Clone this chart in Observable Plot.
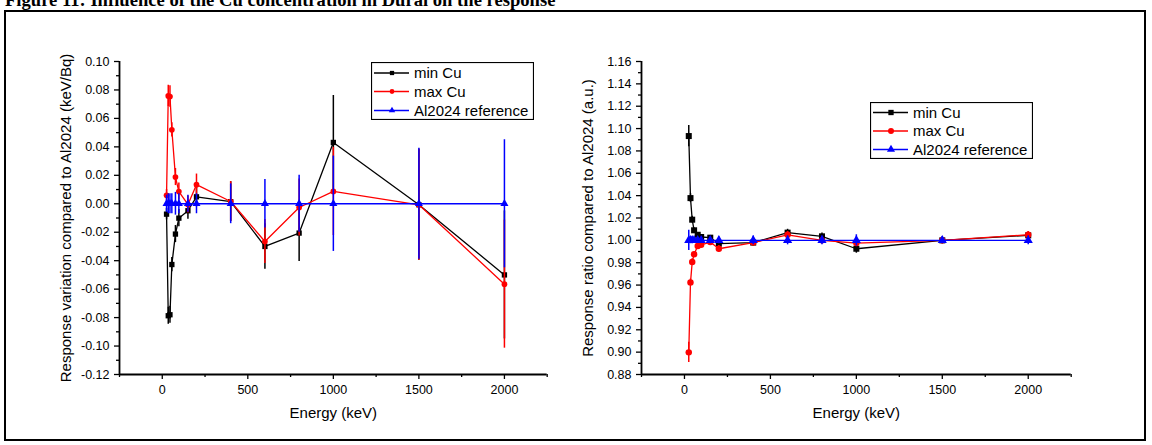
<!DOCTYPE html>
<html><head><meta charset="utf-8">
<script src="https://cdn.jsdelivr.net/npm/d3@7"></script>
<script src="https://cdn.jsdelivr.net/npm/@observablehq/plot@0.6"></script>
<style>
html,body{margin:0;padding:0;background:#fff;width:1152px;height:445px;overflow:hidden;}
#wrap{position:relative;width:1152px;height:445px;}
#title{position:absolute;left:5px;top:-9px;font:bold 18.6px "Liberation Serif","Times New Roman",serif;line-height:18px;white-space:nowrap;color:#000;}
#frame{position:absolute;left:4px;top:10px;width:1142px;height:431px;border:2px solid #000;box-sizing:border-box;}
.panel{position:absolute;top:0;}
.legend{position:absolute;}
</style>
</head><body>
<div id="wrap">
  <div id="title">Figure 11: Influence of the Cu concentration in Dural on the response</div>
  <div id="frame"></div>
  <div id="left" class="panel" style="left:0px"></div>
  <div id="right" class="panel" style="left:560px"></div>
  <svg id="legL" class="legend" style="left:371px;top:62px" width="163" height="58"></svg>
  <svg id="legR" class="legend" style="left:870px;top:102px" width="163" height="57"></svg>
</div>
<script>
// ---------- data ----------
const energy = [25, 35, 45, 56, 77, 97, 150, 200, 400, 600, 800, 1000, 1500, 2000];
const seriesNames = ["min Cu", "max Cu", "Al2024 reference"];

// Left panel: response variation compared to Al2024 (keV/Bq)
const varMinCu    = [-0.0073, -0.0787, -0.0780, -0.0427, -0.0213, -0.0101, -0.0049, 0.0049, 0.0015, -0.0300, -0.0206, 0.0431, -0.0007, -0.0500];
const varMinCuErr = [0.004, 0.006, 0.006, 0.005, 0.006, 0.006, 0.006, 0.007, 0.014, 0.016, 0.020, 0.033, 0.039, 0.045];
const varMaxCu    = [0.0060, 0.0758, 0.0754, 0.0520, 0.0188, 0.0086, -0.0005, 0.0134, 0.0016, -0.0265, -0.0026, 0.0087, -0.0007, -0.0565];
const varMaxCuErr = [0.004, 0.0075, 0.0075, 0.005, 0.006, 0.006, 0.006, 0.0075, 0.014, 0.0155, 0.020, 0.031, 0.039, 0.045];
const varRef      = [0, 0, 0, 0, 0, 0, 0, 0, 0, 0, 0, 0, 0, 0];
const varRefErr   = [0.006, 0.007, 0.007, 0.007, 0.008, 0.007, 0.006, 0.007, 0.014, 0.017, 0.020, 0.0335, 0.039, 0.045];

// Right panel: response ratio compared to Al2024 (a.u.)
const ratioMinCu    = [1.0933, 1.0378, 1.0185, 1.0090, 1.0050, 1.0030, 1.0024, 0.9970, 0.9980, 1.0069, 1.0036, 0.9925, 1.0000, 1.0045];
const ratioMinCuErr = [0.0095, 0.004, 0.003, 0.002, 0.002, 0.002, 0.002, 0.003, 0.003, 0.003, 0.003, 0.004, 0.003, 0.003];
const ratioMaxCu    = [0.8998, 0.9624, 0.9806, 0.9875, 0.9949, 0.9960, 0.9985, 0.9925, 0.9980, 1.0050, 1.0000, 0.9976, 1.0000, 1.0050];
const ratioMaxCuErr = [0.009, 0.003, 0.003, 0.002, 0.003, 0.002, 0.002, 0.003, 0.002, 0.003, 0.003, 0.003, 0.003, 0.003];
const ratioRef      = [1, 1, 1, 1, 1, 1, 1, 1, 1, 1, 1, 1, 1, 1];
const ratioRefErr   = [0.009, 0.003, 0.003, 0.002, 0.002, 0.002, 0.003, 0.003, 0.004, 0.004, 0.004, 0.005, 0.003, 0.004];

// axes / ticks
const xDomain = [-250, 2250];
const xMajor = [0, 500, 1000, 1500, 2000];
const xMinor = [-250, 250, 750, 1250, 1750, 2250];
const yDomainL = [-0.12, 0.10];
const yMajorL = [-0.12, -0.10, -0.08, -0.06, -0.04, -0.02, 0.00, 0.02, 0.04, 0.06, 0.08, 0.10];
const yMinorL = [-0.11, -0.09, -0.07, -0.05, -0.03, -0.01, 0.01, 0.03, 0.05, 0.07, 0.09];
const yDomainR = [0.88, 1.16];
const yMajorR = [0.88, 0.90, 0.92, 0.94, 0.96, 0.98, 1.00, 1.02, 1.04, 1.06, 1.08, 1.10, 1.12, 1.14, 1.16];
const yMinorR = [0.89, 0.91, 0.93, 0.95, 0.97, 0.99, 1.01, 1.03, 1.05, 1.07, 1.09, 1.11, 1.13, 1.15];
const xLabel = "Energy (keV)";
const yLabelL = "Response variation compared to Al2024 (keV/Bq)";
const yLabelR = "Response ratio compared to Al2024 (a.u.)";

const colors = ["#000000", "#ff0000", "#0000ff"];
const symbols = ["square", "circle", "triangle"];

function series(ys, errs, i, r) {
  const data = energy.map((x, k) => ({x, y: ys[k], lo: ys[k] - errs[k], hi: ys[k] + errs[k]}));
  return [
    Plot.ruleX(data, {x: "x", y1: "lo", y2: "hi", stroke: colors[i], strokeWidth: 1.5}),
    Plot.line(data, {x: "x", y: "y", stroke: colors[i], strokeWidth: 1.3}),
    Plot.dot(data, {x: "x", y: "y", symbol: () => symbols[i], fill: colors[i], stroke: "none", r: i === 1 ? r * 0.95 : r})
  ];
}

function panel({width, ml, mr, yDomain, yMajor, yMinor, yLabel, sets, r}) {
  return Plot.plot({
    width, height: 445,
    marginLeft: ml, marginRight: mr, marginTop: 61, marginBottom: 71,
    style: {fontFamily: "'Liberation Sans', Arial, sans-serif", fontSize: "12.5px", color: "#000", background: "transparent", overflow: "visible"},
    x: {domain: xDomain, label: null},
    y: {domain: yDomain, label: null},
    symbol: {type: "identity"},
    marks: [
      ...series(sets[0][0], sets[0][1], 0, r),
      ...series(sets[1][0], sets[1][1], 1, r),
      ...series(sets[2][0], sets[2][1], 2, r),
      Plot.axisX({ticks: xMajor, tickSize: 5, tickPadding: 6, strokeWidth: 1.3, tickFormat: d => String(d), label: null}),
      Plot.axisX({ticks: xMinor, tickSize: 3, strokeWidth: 1.3, tickFormat: null, text: null, label: null}),
      Plot.axisY({ticks: yMajor, tickSize: 5, tickPadding: 5, strokeWidth: 1.3, tickFormat: d => d.toFixed(2), label: null}),
      Plot.axisY({ticks: yMinor, tickSize: 3, strokeWidth: 1.3, text: null, label: null}),
      Plot.ruleX([xDomain[0]], {stroke: "#000", strokeWidth: 1.8}),
      Plot.ruleY([yDomain[0]], {stroke: "#000", strokeWidth: 1.8}),
      Plot.text([xLabel], {frameAnchor: "bottom", dy: 43, fontSize: 15, textAnchor: "middle", text: d => d}),
      Plot.text([yLabel], {frameAnchor: "left", dx: -53, rotate: -90, fontSize: 15, textAnchor: "middle", lineAnchor: "middle", text: d => d})
    ]
  });
}

document.getElementById("left").append(panel({
  width: 560, ml: 119, mr: 13.3, yDomain: yDomainL, yMajor: yMajorL, yMinor: yMinorL, yLabel: yLabelL, r: 3,
  sets: [[varMinCu, varMinCuErr], [varMaxCu, varMaxCuErr], [varRef, varRefErr]]
}));
document.getElementById("right").append(panel({
  width: 592, ml: 81, mr: 81.3, yDomain: yDomainR, yMajor: yMajorR, yMinor: yMinorR, yLabel: yLabelR, r: 3.4,
  sets: [[ratioMinCu, ratioMinCuErr], [ratioMaxCu, ratioMaxCuErr], [ratioRef, ratioRefErr]]
}));

// legends
function legend(id, w, h, rows, mk) {
  const svg = d3.select("#" + id);
  svg.append("rect").attr("x", 0.5).attr("y", 0.5).attr("width", w - 1).attr("height", h - 1)
    .attr("fill", "#fff").attr("stroke", "#000").attr("stroke-width", 1.2);
  seriesNames.forEach((name, i) => {
    const y = rows[i];
    svg.append("line").attr("x1", 3).attr("x2", 38).attr("y1", y).attr("y2", y)
      .attr("stroke", colors[i]).attr("stroke-width", 1.3);
    const sym = [d3.symbolSquare, d3.symbolCircle, d3.symbolTriangle][i];
    svg.append("path").attr("d", d3.symbol(sym, Math.PI * mk * mk)()).attr("transform", `translate(21,${y})`)
      .attr("fill", colors[i]);
    svg.append("text").attr("x", 43).attr("y", y).attr("dy", "0.36em")
      .attr("font-family", "'Liberation Sans', Arial, sans-serif").attr("font-size", 15).attr("fill", "#000").text(name);
  });
}
legend("legL", 163, 58, [11, 29.5, 48.5], 2.4);
legend("legR", 163, 57, [10.5, 29, 47.5], 3);
</script>
</body></html>
